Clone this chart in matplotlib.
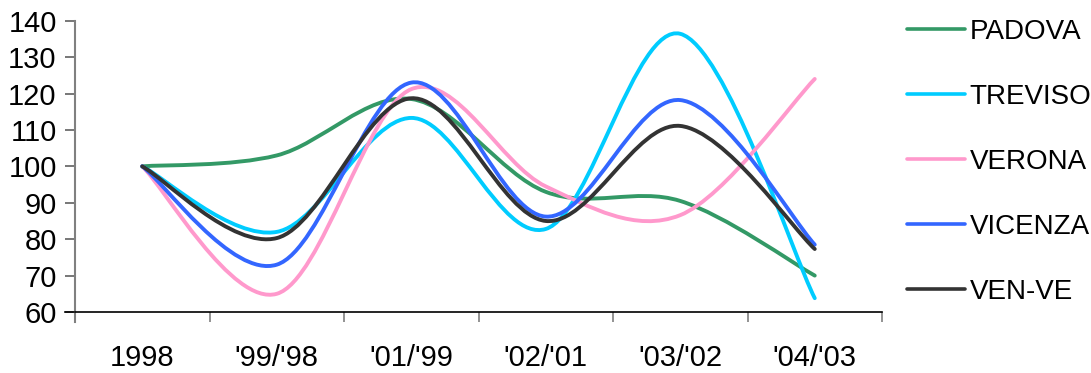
import numpy as np
import matplotlib.pyplot as plt
from matplotlib.path import Path
from matplotlib.patches import PathPatch
from matplotlib.lines import Line2D

plt.rcParams['font.family'] = ['Liberation Sans', 'DejaVu Sans']

anni = ['1998', "'99/'98", "'01/'99", "'02/'01", "'03/'02", "'04/'03"]
padova = [100, 103, 118.5, 93, 90.5, 70]
treviso = [100, 82, 113.3, 82.8, 136.4, 63.8]
verona = [100, 65, 121.2, 94.5, 86.6, 124]
vicenza = [100, 73, 123, 86.2, 118.2, 78.5]
ven_ve = [100, 80.3, 118.7, 85, 111.1, 77.3]

serie = ['PADOVA', 'TREVISO', 'VERONA', 'VICENZA', 'VEN-VE']
colori = ['#339966', '#00CCFF', '#FF99CC', '#3366FF', '#333333']
valori = [padova, treviso, verona, vicenza, ven_ve]


def curva(x, y):
    # linea smussata stile Excel (Catmull-Rom -> Bezier)
    p = np.column_stack([x, y]).astype(float)
    ext = np.vstack([p[0], p, p[-1]])
    verts = [p[0]]
    codes = [Path.MOVETO]
    for i in range(len(p) - 1):
        c1 = p[i] + (ext[i + 2] - ext[i]) / 6
        c2 = p[i + 1] - (ext[i + 3] - ext[i + 1]) / 6
        verts += [c1, c2, p[i + 1]]
        codes += [Path.CURVE4] * 3
    return Path(verts, codes)


fig = plt.figure(figsize=(10.91, 3.73), dpi=100)
ax = fig.add_axes([75 / 1091, 1 - 312 / 373, 807 / 1091, (312 - 20.7) / 373])

x = np.arange(len(anni))
for nome, col, val in zip(serie, colori, valori):
    ax.add_patch(PathPatch(curva(x, val), fill=False, edgecolor=col, lw=2.8,
                           joinstyle='round', capstyle='round'))

ax.set_xlim(-0.5, len(anni) - 0.5)
ax.set_ylim(60, 140)
ax.set_yticks(np.arange(60, 141, 10))
ax.set_xticks(x)
ax.set_xticklabels(anni)
ax.set_xticks(np.arange(-0.5, len(anni)), minor=True)
ax.tick_params(axis='x', which='major', length=0, pad=23, labelsize=21)
ax.tick_params(axis='x', which='minor', length=7.2, width=1.2, color='#808080')
ax.tick_params(axis='y', length=7.2, width=1.2, color='#606060', pad=6, labelsize=21)

for s in ['top', 'right']:
    ax.spines[s].set_visible(False)
ax.spines['left'].set_color('#808080')
ax.spines['left'].set_linewidth(1.5)
ax.spines['left'].set_bounds(140, 60)
ax.spines['bottom'].set_color('black')
ax.spines['bottom'].set_linewidth(1.2)
ax.plot([-10 / 807, 0], [0, 0], transform=ax.transAxes, color='black', lw=1.2, clip_on=False)
ax.plot([0, 0], [0, -10 / 291.6], transform=ax.transAxes, color='#808080', lw=1.5, clip_on=False)

maniglie = [Line2D([], [], color=c, lw=2.6, solid_capstyle='round') for c in colori]
fig.legend(maniglie, serie, loc='upper left', bbox_to_anchor=(896 / 1091, 1 - 8 / 373),
           frameon=False, fontsize=20, handlelength=2.1, handletextpad=0.15,
           labelspacing=1.4, borderaxespad=0)

fig.savefig('out.png', dpi=100)
